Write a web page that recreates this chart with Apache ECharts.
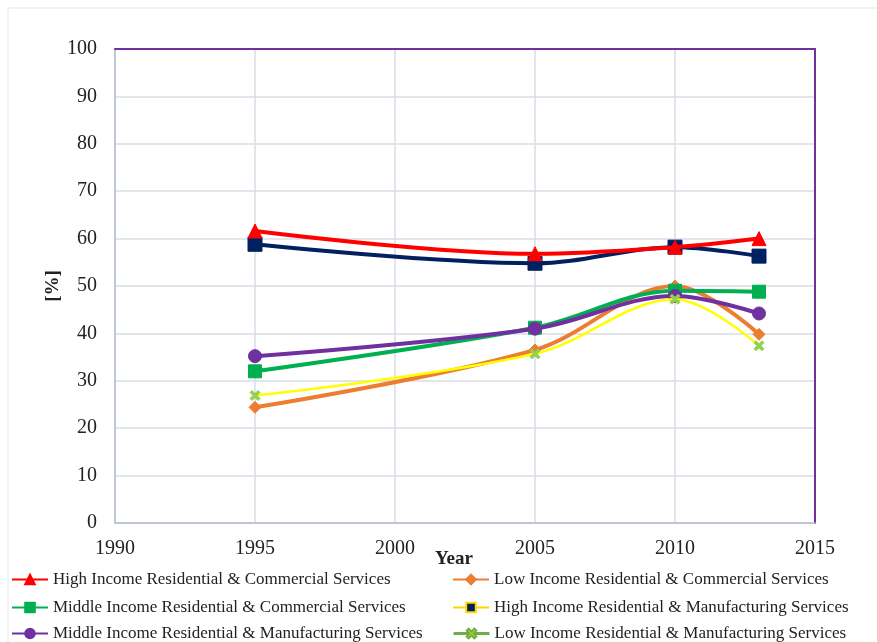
<!DOCTYPE html>
<html>
<head>
<meta charset="utf-8">
<script src="https://cdn.jsdelivr.net/npm/echarts@6/dist/echarts.min.js"></script>
<style>
  html, body { margin: 0; padding: 0; background: #fff; }
  #main { width: 877px; height: 642px; }
</style>
</head>
<body>
<div id="main"></div>
<script>
var years = [1995, 2005, 2010, 2013];
var xTicks = [1990, 1995, 2000, 2005, 2010, 2015];

var highResCom = [61.6, 56.8, 58.2, 60.0];
var lowResCom = [24.4, 36.5, 50.0, 39.8];
var midResCom = [32.0, 41.2, 49.0, 48.8];
var highResMan = [58.8, 54.8, 58.2, 56.3];
var midResMan = [35.2, 41.0, 47.9, 44.2];
var lowResMan = [26.9, 35.7, 47.2, 37.4];

var names = [
  'High Income Residential & Commercial Services',
  'Low Income Residential & Commercial Services',
  'Middle Income Residential & Commercial Services',
  'High Income Residential & Manufacturing Services',
  'Middle Income Residential & Manufacturing Services',
  'Low Income Residential & Manufacturing Services'
];

function pairs(vals) {
  return years.map(function (y, i) { return [y, vals[i]]; });
}

var xSymbol = 'path://M0,2 L2,0 L5,3 L8,0 L10,2 L7,5 L10,8 L8,10 L5,7 L2,10 L0,8 L3,5 Z';
var font = 'Liberation Serif';

var chart = echarts.init(document.getElementById('main'));

function line(name, vals, color, width, symbol, size, markerColor, z) {
  return {
    name: name,
    type: 'line',
    smooth: 0.35,
    data: pairs(vals),
    symbol: symbol,
    symbolSize: size,
    showAllSymbol: true,
    z: z,
    lineStyle: { color: color, width: width },
    itemStyle: { color: markerColor || color, borderColor: markerColor || color, borderWidth: 1 },
    emphasis: { disabled: true }
  };
}

// one legend per entry so the two columns line up like the original
function legendItem(item, left, top) {
  return {
    left: left,
    top: top,
    itemWidth: 36,
    itemHeight: 12,
    padding: 0,
    textStyle: { fontFamily: font, fontSize: 17, color: '#222' },
    data: [item]
  };
}

var option = {
  backgroundColor: '#fff',
  animation: false,
  textStyle: { fontFamily: font },
  graphic: [{
    type: 'rect',
    shape: { x: 8, y: 8, width: 900, height: 700 },
    style: { fill: 'none', stroke: '#e3e5ea', lineWidth: 1 },
    silent: true
  }],
  grid: { left: 115, right: 62, top: 49, bottom: 119 },
  legend: [
    legendItem(names[0], 11, 571),
    legendItem(names[2], 11, 599),
    legendItem(names[4], 11, 625),
    legendItem(names[1], 452, 571),
    legendItem({ name: names[3], lineStyle: { color: '#ffd700', width: 2 }, itemStyle: { color: '#002060', borderColor: '#ffd700' } }, 452, 599),
    legendItem({ name: names[5], lineStyle: { color: '#70ad47', width: 3 }, itemStyle: { color: '#c8e000', borderColor: '#70ad47' } }, 452, 625)
  ],
  xAxis: [{
    type: 'value',
    min: 1990,
    max: 2015,
    interval: 5,
    name: 'Year',
    nameLocation: 'middle',
    nameGap: 27,
    nameMoveOverlap: false,
    nameTextStyle: { fontFamily: font, fontSize: 19, fontWeight: 'bold', color: '#222', padding: [0, 22, 0, 0] },
    axisLine: { show: true, lineStyle: { color: '#b4bcd4', width: 1.5 } },
    axisTick: { show: false },
    axisLabel: {
      fontFamily: font, fontSize: 20, color: '#222', margin: 16,
      formatter: function (v) { return xTicks.indexOf(v) >= 0 ? String(v) : ''; }
    },
    splitLine: { show: true, lineStyle: { color: '#d9dce6', width: 1.5 } }
  }, {
    type: 'value',
    position: 'top',
    min: 1990,
    max: 2015,
    interval: 5,
    axisLine: { show: true, onZero: false, lineStyle: { color: '#7030a0', width: 2 } },
    axisTick: { show: false },
    axisLabel: { show: false },
    splitLine: { show: false }
  }],
  yAxis: [{
    type: 'value',
    min: 0,
    max: 100,
    interval: 10,
    name: '[%]',
    nameLocation: 'middle',
    nameGap: 52,
    nameMoveOverlap: false,
    nameRotate: 90,
    nameTextStyle: { fontFamily: font, fontSize: 19, fontWeight: 'bold', color: '#222' },
    axisLine: { show: true, lineStyle: { color: '#b4bcd4', width: 1.5 } },
    axisTick: { show: false },
    axisLabel: { fontFamily: font, fontSize: 20, color: '#222', margin: 18 },
    splitLine: { show: true, lineStyle: { color: '#d9dce6', width: 1.5 } }
  }, {
    type: 'value',
    position: 'right',
    min: 0,
    max: 100,
    interval: 10,
    axisLine: { show: true, onZero: false, lineStyle: { color: '#7030a0', width: 2 } },
    axisTick: { show: false },
    axisLabel: { show: false },
    splitLine: { show: false }
  }],
  series: [
    line(names[0], highResCom, '#ff0000', 4, 'triangle', 14, null, 6),
    line(names[1], lowResCom, '#ed7d31', 4, 'diamond', 12, null, 2),
    line(names[2], midResCom, '#00b050', 4, 'rect', 13, null, 3),
    line(names[3], highResMan, '#002060', 4, 'rect', 14, null, 5),
    line(names[4], midResMan, '#7030a0', 4, 'circle', 13, null, 4),
    line(names[5], lowResMan, '#ffff00', 2.5, xSymbol, 10, '#92d050', 7)
  ]
};

chart.setOption(option);
</script>
</body>
</html>
